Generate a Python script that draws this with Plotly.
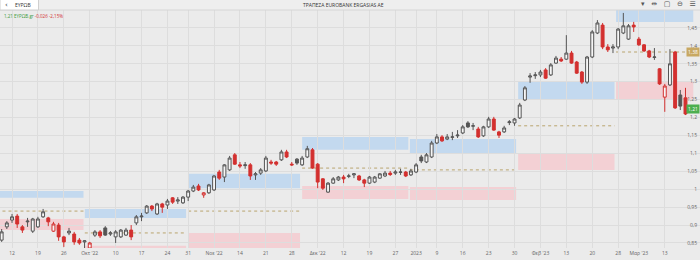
import plotly.graph_objects as go

# ---------------- data ----------------
idx = list(range(-2, 131))
opens = [0.858,0.895,0.914,0.925,0.895,0.909,0.883,0.895,0.923,0.920,0.883,0.900,0.867,0.878,0.875,0.858,0.853,0.836,0.872,0.881,0.892,0.875,0.867,0.867,0.872,0.886,0.906,0.923,0.934,0.953,0.931,0.959,0.956,0.976,0.967,0.962,0.978,0.995,1.009,0.984,0.990,0.998,1.048,1.034,1.054,1.096,1.068,1.066,1.068,1.040,1.045,1.051,1.076,1.076,1.082,1.104,1.070,1.084,1.068,1.090,1.110,1.070,1.029,0.992,1.017,1.026,1.034,1.036,1.040,1.037,1.026,1.017,1.020,1.031,1.037,1.045,1.045,1.047,1.048,1.040,1.048,1.090,1.076,1.090,1.129,1.146,1.140,1.145,1.149,1.157,1.185,1.176,1.168,1.149,1.174,1.196,1.160,1.160,1.186,1.185,1.199,1.249,1.313,1.317,1.319,1.333,1.319,1.352,1.363,1.363,1.380,1.355,1.327,1.299,1.369,1.436,1.458,1.397,1.394,1.397,1.436,1.419,1.458,1.419,1.403,1.386,1.368,1.336,1.257,1.291,1.383,1.263,1.255]
highs = [0.889,0.911,0.931,0.931,0.900,0.920,0.920,0.923,0.945,0.923,0.909,0.906,0.870,0.892,0.881,0.864,0.858,0.853,0.886,0.886,0.897,0.883,0.886,0.889,0.892,0.900,0.928,0.934,0.956,0.956,0.962,0.962,0.973,0.978,0.978,0.981,0.998,1.012,1.015,0.992,1.015,1.040,1.054,1.070,1.093,1.101,1.076,1.076,1.073,1.048,1.059,1.093,1.082,1.079,1.110,1.110,1.076,1.087,1.093,1.121,1.115,1.073,1.031,1.020,1.034,1.037,1.040,1.043,1.045,1.040,1.029,1.037,1.037,1.045,1.051,1.051,1.054,1.057,1.051,1.057,1.073,1.096,1.101,1.135,1.154,1.151,1.154,1.160,1.165,1.179,1.190,1.185,1.174,1.177,1.202,1.202,1.163,1.177,1.193,1.199,1.241,1.288,1.324,1.327,1.333,1.338,1.352,1.372,1.369,1.430,1.386,1.358,1.330,1.372,1.444,1.472,1.464,1.405,1.405,1.450,1.492,1.461,1.467,1.425,1.405,1.389,1.394,1.338,1.294,1.391,1.386,1.277,1.283]
lows = [0.853,0.889,0.906,0.892,0.878,0.895,0.878,0.892,0.920,0.897,0.881,0.856,0.839,0.872,0.845,0.845,0.836,0.834,0.867,0.864,0.870,0.870,0.850,0.864,0.870,0.858,0.900,0.911,0.931,0.939,0.928,0.934,0.945,0.959,0.959,0.959,0.967,0.992,0.995,0.976,0.987,0.995,1.026,1.020,1.051,1.068,1.059,1.057,1.026,1.026,1.040,1.048,1.068,1.065,1.079,1.087,1.065,1.068,1.065,1.087,1.057,1.003,0.998,0.990,1.015,1.023,1.017,1.031,1.031,1.023,1.006,1.015,1.017,1.029,1.034,1.037,1.040,1.040,1.034,1.037,1.045,1.073,1.073,1.087,1.126,1.132,1.137,1.137,1.143,1.154,1.171,1.165,1.143,1.146,1.171,1.163,1.143,1.157,1.179,1.177,1.196,1.246,1.297,1.308,1.313,1.308,1.316,1.350,1.355,1.361,1.350,1.322,1.294,1.294,1.366,1.433,1.391,1.383,1.380,1.391,1.433,1.417,1.439,1.400,1.383,1.366,1.361,1.291,1.216,1.288,1.224,1.221,1.207]
closes = [0.881,0.906,0.923,0.903,0.886,0.911,0.917,0.917,0.937,0.909,0.903,0.867,0.853,0.883,0.853,0.850,0.856,0.850,0.881,0.870,0.872,0.878,0.881,0.886,0.886,0.867,0.923,0.925,0.953,0.945,0.959,0.950,0.967,0.964,0.970,0.978,0.995,1.006,0.998,0.990,1.012,1.037,1.031,1.068,1.087,1.070,1.065,1.068,1.037,1.043,1.054,1.087,1.073,1.070,1.104,1.090,1.068,1.073,1.087,1.113,1.059,1.020,1.003,1.017,1.029,1.034,1.029,1.037,1.043,1.026,1.017,1.034,1.034,1.043,1.045,1.041,1.048,1.048,1.037,1.051,1.068,1.079,1.096,1.129,1.146,1.135,1.146,1.146,1.151,1.174,1.174,1.177,1.146,1.174,1.196,1.165,1.151,1.171,1.188,1.196,1.235,1.283,1.316,1.319,1.327,1.310,1.347,1.366,1.358,1.380,1.352,1.324,1.299,1.369,1.439,1.464,1.397,1.389,1.397,1.447,1.456,1.456,1.453,1.403,1.386,1.369,1.369,1.294,1.288,1.350,1.227,1.232,1.210]

tick_pos = [0, 5, 10, 15, 20, 25, 30, 34, 39, 44, 49, 54, 59, 64, 69, 74, 78, 82, 87, 92, 97, 102, 107, 112, 117, 121, 126, 131]
tick_text = ["12", "19", "26", "Οκτ '22", "10", "17", "24", "31", "Νοε '22", "14", "21", "28", "Δεκ '22", "12", "19", "27", "2023", "9", "16", "23", "30", "Φεβ '23", "13", "20", "28", "Μαρ '23", "13", "20"]

# monthly zones (start/end position, resistance band, support band, pivot)
zone_x0 = [-3.0, 14.05, 34.0, 56.0, 76.8, 97.7, 116.6]
zone_x1 = [13.8, 33.6, 55.6, 76.5, 97.3, 116.3, 131.5]
res_lo = [0.976, 0.920, 1.003, 1.110, 1.098, 1.249, 1.467]
res_hi = [0.995, 0.945, 1.043, 1.146, 1.140, 1.299, 1.503]
sup_lo = [0.886, 0.820, 0.836, 0.973, 0.970, 1.054, 1.249]
sup_hi = [0.917, 0.842, 0.878, 1.009, 1.006, 1.098, 1.299]
pivot = [0.939, 0.878, 0.939, 1.059, 1.054, 1.177, 1.383]

last_price = 1.21
pivot_label = "1,38"

# ---------------- figure ----------------
BG = "#ebebeb"
RED = "#d3302f"
GRAY = "#555555"
HOLLOW = "#f6f6f6"

groups = {"ug": [], "dr": [], "dg": [], "ur": []}
for i in range(len(idx)):
    up = closes[i] >= opens[i]
    higher = True if i == 0 else closes[i] >= closes[i - 1]
    key = ("u" if up else "d") + ("g" if higher else "r")
    groups[key].append(i)

style = {
    "ug": (HOLLOW, GRAY),
    "ur": (HOLLOW, RED),
    "dg": (GRAY, GRAY),
    "dr": (RED, RED),
}

fig = go.Figure()
for key, members in groups.items():
    if not members:
        continue
    fill, line = style[key]
    fig.add_trace(go.Candlestick(
        x=[idx[i] for i in members],
        open=[opens[i] for i in members],
        high=[highs[i] for i in members],
        low=[lows[i] for i in members],
        close=[closes[i] for i in members],
        increasing=dict(fillcolor=fill, line=dict(color=line, width=1)),
        decreasing=dict(fillcolor=fill, line=dict(color=line, width=1)),
        whiskerwidth=0,
        showlegend=False,
        hoverinfo="skip",
    ))

shapes = []
for k in range(len(zone_x0)):
    shapes.append(dict(type="rect", xref="x", yref="y", x0=zone_x0[k], x1=zone_x1[k],
                       y0=res_lo[k], y1=res_hi[k], fillcolor="#c3d9ef", line=dict(width=0), layer="below"))
    shapes.append(dict(type="rect", xref="x", yref="y", x0=zone_x0[k], x1=zone_x1[k],
                       y0=sup_lo[k], y1=sup_hi[k], fillcolor="#f3d0d4", line=dict(width=0), layer="below"))
    shapes.append(dict(type="line", xref="x", yref="y", x0=zone_x0[k], x1=zone_x1[k],
                       y0=pivot[k], y1=pivot[k], line=dict(color="#b9a46e", width=1, dash="dot"), layer="below"))

# header
shapes.append(dict(type="rect", xref="paper", yref="paper", x0=0, x1=1, y0=1.0, y1=1.06,
                   fillcolor="#eeeeee", line=dict(width=0)))
shapes.append(dict(type="line", xref="paper", yref="paper", x0=0, x1=1, y0=1.0, y1=1.0,
                   line=dict(color="#d6d6d6", width=1)))
shapes.append(dict(type="rect", xref="paper", yref="paper", x0=0, x1=0.055, y0=1.0, y1=1.05,
                   fillcolor="#ffffff", line=dict(color="#cfcfcf", width=1)))

annotations = [
    dict(text="ΤΡΑΠΕΖΑ EUROBANK ERGASIAS ΑΕ", x=0.491, y=1.0, xref="paper", yref="paper",
         xanchor="center", yanchor="bottom", showarrow=False,
         font=dict(size=5, color="#333333", family="Open Sans")),
    dict(text="‹", x=0.004, y=1.022, xref="paper", yref="paper", xanchor="left", yanchor="middle",
         showarrow=False, font=dict(size=7, color="#333333", family="DejaVu Sans")),
    dict(text="ΕΥΡΩΒ", x=0.018, y=1.0, xref="paper", yref="paper", xanchor="left", yanchor="bottom",
         showarrow=False, font=dict(size=5, color="#333333", family="Open Sans")),
    dict(text="<span style='color:#3a9a3a'>1,21 ΕΥΡΩΒ.gr</span> <span style='color:#d3302f'>-0,026 -2,15%</span>",
         x=0.003, y=0.995, xref="paper", yref="paper", xanchor="left", yanchor="top",
         showarrow=False, font=dict(size=4.5, family="Open Sans")),
    dict(text="▾   ⇹   ▢   ⊖   ☰", x=0.997, y=1.0, xref="paper", yref="paper", xanchor="right", yanchor="bottom",
         showarrow=False, font=dict(size=7, color="#555555", family="DejaVu Sans")),
    dict(text=pivot_label, x=1.0, y=pivot[-1], xref="paper", yref="y", xanchor="right", yanchor="middle",
         showarrow=False, bgcolor="#c8a862", font=dict(size=5, color="#ffffff", family="Open Sans"), borderpad=1),
    dict(text="1,21", x=1.0, y=last_price, xref="paper", yref="y", xanchor="right", yanchor="bottom",
         showarrow=False, bgcolor="#4caf50", font=dict(size=5, color="#ffffff", family="Open Sans"), borderpad=1),
]

fig.update_layout(
    width=700, height=260,
    margin=dict(l=0, r=0, t=10, b=12),
    paper_bgcolor=BG, plot_bgcolor=BG,
    separators=",.",
    shapes=shapes,
    annotations=annotations,
    boxgap=0.2,
    xaxis=dict(range=[-2.32, 132.8], tickmode="array", tickvals=tick_pos, ticktext=tick_text,
               showgrid=True, gridcolor="#dddddd", gridwidth=1, zeroline=False,
               rangeslider=dict(visible=False), showline=False, ticks="",
               tickfont=dict(size=5, color="#666666", family="Open Sans"), ticklabelstandoff=1),
    yaxis=dict(range=[0.836, 1.5002], side="right", dtick=0.05, tick0=0.85,
               ticklabelposition="inside", showgrid=True, gridcolor="#dddddd", gridwidth=1,
               zeroline=False, ticks="", showline=False,
               tickfont=dict(size=5, color="#666666", family="Open Sans")),
)

fig.write_html("out.html")
